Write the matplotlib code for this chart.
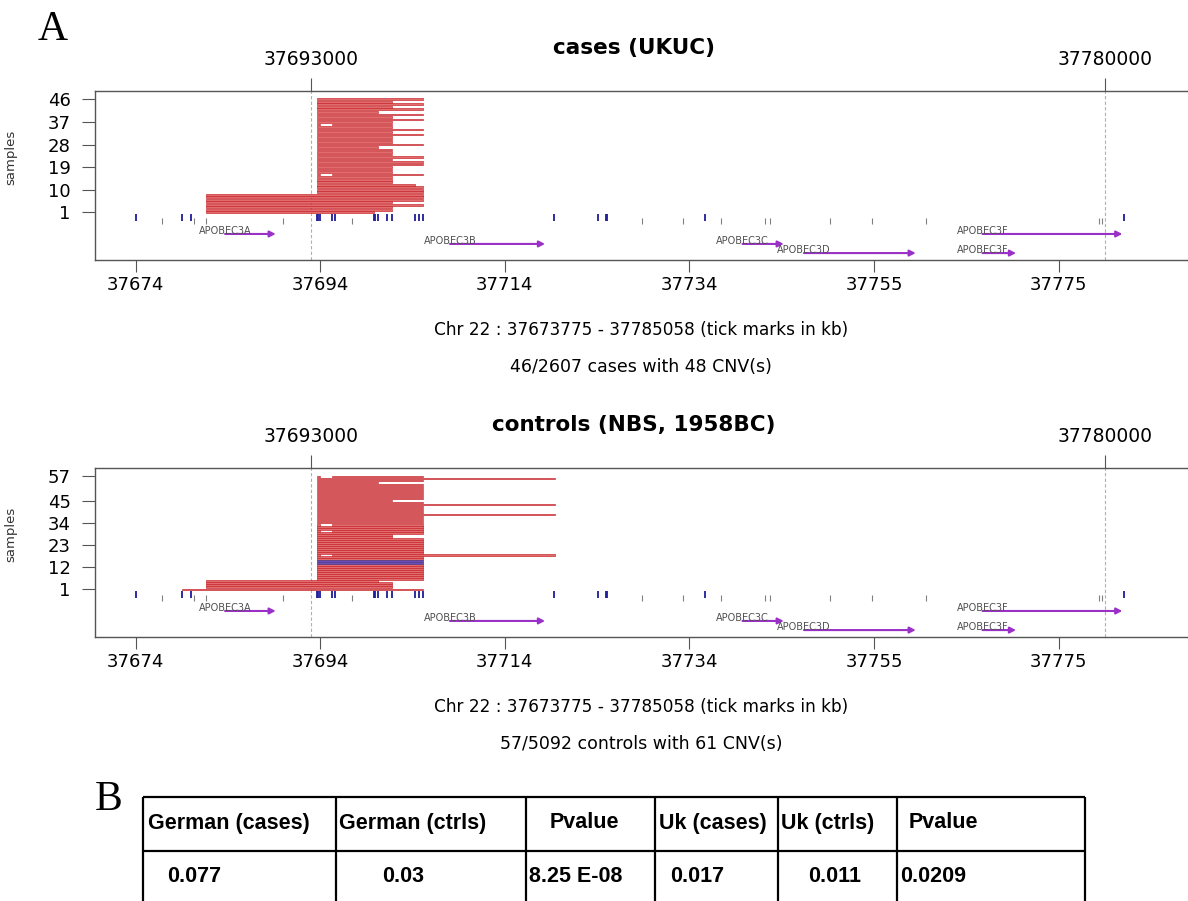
import matplotlib
matplotlib.use('Agg')
import numpy as np
import matplotlib.pyplot as plt
from matplotlib.transforms import blended_transform_factory
from matplotlib import font_manager

# ---------------- data ----------------
region_start_kb, region_end_kb = 37673.775, 37785.058
top_ticks = [37693, 37780]
top_labels = ['37693000', '37780000']
bottom_ticks = [37673.775, 37694.008, 37714.241, 37734.474, 37754.707, 37774.940]
bottom_labels = ['37674', '37694', '37714', '37734', '37755', '37775']

cases_yticks = [1, 10, 19, 28, 37, 46]
ctrl_yticks = [1, 12, 23, 34, 45, 57]

cases_row = [1, 2, 3, 4, 5, 6, 7, 8, 9, 10, 11, 12, 13, 14, 15, 16, 16, 17, 18, 19, 20,
             21, 22, 23, 24, 25, 26, 27, 28, 29, 30, 31, 32, 33, 34, 35, 36, 36, 37, 38,
             39, 40, 41, 42, 43, 44, 45, 46]
cases_start = [37681.49, 37681.49, 37681.49, 37681.49, 37681.49, 37681.49, 37681.49, 37681.49,
               37693.62, 37693.62, 37693.62, 37693.62, 37693.62, 37693.62, 37693.62,
               37693.62, 37695.33, 37693.62, 37693.62, 37693.62, 37693.62,
               37693.62, 37693.62, 37693.62, 37693.62, 37693.62, 37693.62, 37693.62, 37693.62,
               37693.62, 37693.62, 37693.62, 37693.62, 37693.62, 37693.62, 37693.62,
               37693.62, 37695.33, 37693.62, 37693.62,
               37693.62, 37693.62, 37693.62, 37693.62, 37693.62, 37693.62, 37693.62, 37693.62]
cases_end = [37699.85, 37701.91, 37701.91, 37705.31, 37701.91, 37705.31, 37705.31, 37705.31,
             37705.31, 37705.31, 37705.31, 37704.40, 37701.91, 37701.91, 37701.91,
             37693.99, 37705.31, 37701.91, 37701.91, 37701.91, 37705.31,
             37705.31, 37701.91, 37705.31, 37701.91, 37701.91, 37701.91, 37700.34, 37705.31,
             37701.91, 37701.91, 37701.91, 37705.31, 37701.91, 37705.31, 37701.91,
             37693.99, 37701.91, 37701.91, 37705.31,
             37701.91, 37705.31, 37700.34, 37705.31, 37701.91, 37705.31, 37701.91, 37705.31]

ctrl_row = [1, 2, 3, 4, 5,
            6, 7, 8, 9, 10, 11, 12, 13, 14, 15, 16, 17,
            18, 18,
            19, 20, 21, 22, 23, 24, 25, 26, 27, 28, 29,
            30, 30,
            31, 32,
            33, 33,
            34, 35, 36, 37, 38, 39, 40, 41, 42, 43, 44, 45, 46, 47, 48, 49, 50, 51, 52, 53,
            54, 55, 56,
            57, 57]
ctrl_start = [37678.86, 37681.49, 37681.49, 37681.49, 37681.49,
              37693.62, 37693.62, 37693.62, 37693.62, 37693.62, 37693.62, 37693.62, 37693.62,
              37693.62, 37693.62, 37693.62, 37693.62,
              37693.62, 37695.33,
              37693.62, 37693.62, 37693.62, 37693.62, 37693.62, 37693.62, 37693.62, 37693.62,
              37693.62, 37693.62, 37693.62,
              37693.62, 37695.33,
              37693.62, 37693.62,
              37693.62, 37695.33,
              37693.62, 37693.62, 37693.62, 37693.62, 37693.62, 37693.62, 37693.62, 37693.62,
              37693.62, 37693.62, 37693.62, 37693.62, 37693.62, 37693.62, 37693.62, 37693.62,
              37693.62, 37693.62, 37693.62, 37693.62, 37693.62, 37693.62, 37693.62,
              37693.62, 37695.33]
ctrl_end = [37705.31, 37701.91, 37701.91, 37701.91, 37700.34,
            37705.31, 37705.31, 37705.31, 37705.31, 37705.31, 37705.31, 37705.31, 37705.31,
            37705.31, 37705.31, 37705.31, 37705.31,
            37693.99, 37719.74,
            37705.31, 37705.31, 37705.31, 37705.31, 37705.31, 37705.31, 37705.31, 37705.31,
            37701.91, 37701.91, 37705.31,
            37693.99, 37705.31,
            37705.31, 37705.31,
            37693.99, 37705.31,
            37705.31, 37705.31, 37705.31, 37705.31, 37719.74,
            37705.31, 37705.31, 37705.31, 37705.31, 37719.74, 37705.31, 37701.91, 37705.31,
            37705.31, 37705.31, 37705.31, 37705.31, 37705.31, 37705.31, 37705.31, 37700.34,
            37705.31, 37719.74,
            37693.99, 37705.31]
ctrl_dup_rows = [14, 15]

probe_blue = [37673.82, 37678.83, 37679.82, 37693.62, 37693.80, 37693.99, 37695.33, 37695.63,
              37699.85, 37700.00, 37700.37, 37701.36, 37701.84, 37704.40, 37704.83, 37705.31,
              37719.63, 37724.45, 37725.33, 37725.45, 37736.17, 37782.14]
probe_gray = [37676.67, 37680.18, 37681.49, 37689.90, 37697.53, 37729.32, 37733.80, 37737.93,
              37742.75, 37743.30, 37749.82, 37754.48, 37760.42, 37779.35, 37779.73]

gene_names = ['APOBEC3A', 'APOBEC3B', 'APOBEC3C', 'APOBEC3D', 'APOBEC3F', 'APOBEC3F']
gene_start = [37683.58, 37708.23, 37740.28, 37747.02, 37766.58, 37766.58]
gene_end = [37689.13, 37718.64, 37744.80, 37759.26, 37781.90, 37770.25]
gene_level = [1, 2, 2, 3, 1, 3]

table_header = ['German (cases)', 'German (ctrls)', 'Pvalue', 'Uk (cases)', 'Uk (ctrls)', 'Pvalue']
table_values = ['0.077', '0.03', '8.25 E-08', '0.017', '0.011', '0.0209']

# ---------------- style / layout ----------------
W, H = 1188, 901
plt.rcParams['font.family'] = ['DejaVu Sans']
fig = plt.figure(figsize=(W / 100, H / 100), dpi=100)

DEL_FACE, DEL_EDGE = '#e26c6c', '#c42028'
DUP_FACE, DUP_EDGE = '#6a50b0', '#4a3590'
GENE_COL = '#9b30c8'
SPINE_COL = '#555555'

pad = 0.04 * (region_end_kb - region_start_kb)
xlim = (region_start_kb - pad, region_end_kb + pad)
px_per_kb = 9.126
ax_left_px = 311 - (37693 - xlim[0]) * px_per_kb
ax_right_px = 311 + (xlim[1] - 37693) * px_per_kb
ax_w_px = ax_right_px - ax_left_px
level_y = {1: 0.154, 2: 0.095, 3: 0.041}


def panel(top_px, n, yticks, rows, starts, ends, dup_rows, title, caption, bar_h):
    box_h = 169
    ax = fig.add_axes([ax_left_px / W, 1 - (top_px + box_h) / H,
                       ax_w_px / W, box_h / H])
    ax.set_xlim(*xlim)
    pps = 113.0 / (n - 1)
    ax.set_ylim(1 - 47.7 / pps, n + 8.3 / pps)

    rows = np.asarray(rows)
    starts = np.asarray(starts)
    ends = np.asarray(ends)
    is_dup = np.isin(rows, dup_rows)
    ax.barh(rows[~is_dup], (ends - starts)[~is_dup], left=starts[~is_dup], height=bar_h,
            color=DEL_FACE, edgecolor=DEL_EDGE, linewidth=0.45, zorder=3)
    if is_dup.any():
        ax.barh(rows[is_dup], (ends - starts)[is_dup], left=starts[is_dup], height=bar_h,
                color=DUP_FACE, edgecolor=DUP_EDGE, linewidth=0.45, zorder=3)

    for xv in top_ticks:
        ax.axvline(xv, color='#b0b0b0', ls=(0, (3, 2)), lw=0.8, zorder=1)

    tr = blended_transform_factory(ax.transData, ax.transAxes)
    ax.vlines(probe_gray, 0.213, 0.249, transform=tr, color='#808080', lw=0.8, zorder=2)
    ax.vlines(probe_blue, 0.231, 0.272, transform=tr, color='#1c1c9c', lw=1.3, zorder=2)

    for name, s, e, lv in zip(gene_names, gene_start, gene_end, gene_level):
        y = level_y[lv]
        ax.annotate('', xy=(e, y), xytext=(s, y), xycoords=tr, textcoords=tr,
                    arrowprops=dict(arrowstyle='-|>,head_length=0.35,head_width=0.18',
                                    color=GENE_COL, lw=1.5, shrinkA=0, shrinkB=0),
                    zorder=4)
        ax.text(s, y + 0.016, name, transform=tr, ha='center', va='center',
                fontsize=7, color='#505050', zorder=5)

    for sp in ax.spines.values():
        sp.set_color(SPINE_COL)
        sp.set_linewidth(1.0)

    ax.set_xticks(bottom_ticks, labels=bottom_labels)
    ax.tick_params(axis='x', length=8.5, width=0.8, color=SPINE_COL, pad=3, labelsize=13)
    ax.set_yticks(yticks, labels=[str(v) for v in yticks])
    ax.tick_params(axis='y', length=9.5, width=0.8, color=SPINE_COL, pad=8, labelsize=13)
    ax.set_ylabel('samples', fontsize=9.5, color='#333333')
    ax.yaxis.set_label_coords((17 - ax_left_px) / ax_w_px, (260 - 157) / 169.0)

    sec = ax.secondary_xaxis('top')
    sec.set_xticks(top_ticks, labels=top_labels)
    sec.tick_params(length=9.5, width=0.8, color=SPINE_COL, pad=6, labelsize=13.5)
    for sp in sec.spines.values():
        sp.set_visible(False)

    fig.text(634 / W, 1 - (top_px - 43) / H, title, ha='center', va='center',
             fontsize=15.5, weight='bold')
    fig.text(641 / W, 1 - (top_px + 239) / H,
             'Chr 22 : 37673775 - 37785058 (tick marks in kb)',
             ha='center', va='center', fontsize=12.2)
    fig.text(641 / W, 1 - (top_px + 276) / H, caption, ha='center', va='center',
             fontsize=12.5)
    return ax


panel(91, 46, cases_yticks, cases_row, cases_start, cases_end, [],
      'cases (UKUC)', '46/2607 cases with 48 CNV(s)', 0.68)
panel(468, 57, ctrl_yticks, ctrl_row, ctrl_start, ctrl_end, ctrl_dup_rows,
      'controls (NBS, 1958BC)', '57/5092 controls with 61 CNV(s)', 0.78)

# panel letters
fig.text(38 / W, 1 - 40 / H, 'A', fontsize=30, family='Liberation Serif',
         ha='left', va='baseline')
fig.text(95 / W, 1 - 810 / H, 'B', fontsize=30, family='Liberation Serif',
         ha='left', va='baseline')

# ---------------- table ----------------
names = {f.name for f in font_manager.fontManager.ttflist}
tfam = 'Liberation Sans Narrow' if 'Liberation Sans Narrow' in names else 'Liberation Sans'
tsize = 19 if tfam == 'Liberation Sans Narrow' else 15.5

axt = fig.add_axes([0, 0, 1, 1], zorder=-1)
axt.set_xlim(0, W)
axt.set_ylim(H, 0)
axt.axis('off')
col_x = [143, 336, 526, 655, 778, 897, 1085]
row_y = [797, 851, 905]
head_x = [148, 339, 550, 659, 781, 909]
val_x = [167, 382, 529, 670, 808, 900]
axt.hlines(row_y[:2], col_x[0], col_x[-1], color='black', lw=1.6)
axt.vlines(col_x, row_y[0], row_y[-1], color='black', lw=1.6)
for i in range(6):
    axt.text(head_x[i], 823, table_header[i], fontsize=tsize, weight='bold',
             family=tfam, ha='left', va='center')
    axt.text(val_x[i], 876, table_values[i], fontsize=tsize, weight='bold',
             family=tfam, ha='left', va='center')

fig.savefig('out.png', dpi=100)
